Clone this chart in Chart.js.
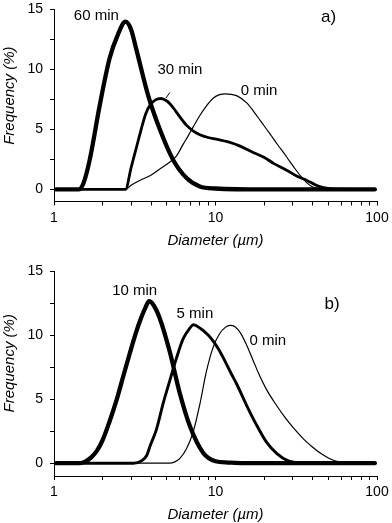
<!DOCTYPE html>
<html>
<head>
<meta charset="utf-8">
<script src="https://cdn.jsdelivr.net/npm/chart.js@4.4.1/dist/chart.umd.min.js"></script>
<style>
  body { margin: 0; background: #fff; }
  canvas { display: block; }
</style>
</head>
<body>
<canvas id="chartA" width="392" height="260"></canvas>
<canvas id="chartB" width="392" height="263"></canvas>
<script>
// Eixos
const xTickValues = [1, 2, 3, 4, 5, 6, 7, 8, 9, 10, 20, 30, 40, 50, 60, 70, 80, 90, 100];
const xTickLabels = [1, 10, 100];
const yTickValues = [0, 2.5, 5, 7.5, 10, 12.5, 15];
const yTickLabels = [0, 5, 10, 15];

// Painel a)
const a60x = [1.03, 1.42, 1.52, 1.66, 1.92, 2.21, 2.49, 2.77, 3.0, 3.24, 3.83, 4.52, 5.47, 6.62, 8.0, 10, 20, 97];
const a60y = [0, 0, 0.5, 2.4, 7.0, 10.9, 12.9, 13.95, 13.3, 11.6, 7.8, 5.0, 2.45, 0.95, 0.25, 0.08, 0, 0];
const a30x = [1.03, 2.77, 3.0, 3.24, 3.45, 3.7, 3.95, 4.25, 4.6, 5.0, 5.2, 5.5, 6.0, 6.6, 7.3, 8.0, 9.0, 10.1, 12, 14.2, 17, 19.8, 23, 27.6, 32, 36.8, 42, 46.7, 55, 97];
const a30y = [0, 0, 1.8, 3.5, 4.9, 6.3, 7.05, 7.45, 7.56, 7.35, 7.15, 6.75, 6.05, 5.35, 4.85, 4.55, 4.32, 4.18, 3.95, 3.6, 3.1, 2.7, 2.15, 1.6, 1.1, 0.75, 0.35, 0.15, 0.02, 0];
const a0x = [1.03, 2.77, 3.0, 3.39, 4.0, 4.52, 5.0, 5.74, 6.3, 6.8, 7.28, 8.0, 8.8, 9.7, 10.6, 11.5, 12.5, 13.5, 15.6, 17.2, 19, 21.8, 24, 27.6, 30.4, 33.5, 36.8, 40, 44.5, 50, 97];
const a0y = [0, 0, 0.35, 0.75, 1.2, 1.7, 2.1, 2.8, 3.75, 4.5, 5.2, 6.15, 6.95, 7.6, 7.88, 7.95, 7.9, 7.8, 7.2, 6.5, 5.7, 4.6, 3.8, 2.7, 1.9, 1.15, 0.55, 0.2, 0.04, 0, 0];

// Painel b)
const b10x = [1.03, 1.45, 1.55, 1.7, 1.85, 2.0, 2.2, 2.45, 2.7, 2.95, 3.2, 3.45, 3.7, 3.88, 4.1, 4.52, 5.21, 6.0, 6.94, 8.4, 10, 12, 15, 97];
const b10y = [0, 0, 0.1, 0.45, 1.0, 1.8, 3.2, 5.0, 6.9, 8.6, 10.1, 11.3, 12.2, 12.65, 12.4, 11.3, 8.7, 5.5, 2.9, 0.8, 0.15, 0.05, 0, 0];
const b5x = [1.03, 3.1, 3.5, 3.75, 3.95, 4.3, 4.75, 5.2, 5.7, 6.3, 6.9, 7.3, 8.0, 9.0, 9.7, 10.5, 11.2, 12.5, 13.5, 15.6, 18.1, 20.8, 24, 28, 33, 40, 97];
const b5y = [0, 0, 0.2, 0.6, 1.4, 2.6, 4.7, 6.4, 8.1, 9.7, 10.5, 10.8, 10.55, 10.0, 9.5, 8.85, 8.2, 7.0, 6.2, 4.5, 2.9, 1.6, 0.75, 0.2, 0.03, 0, 0];
const b0x = [1.03, 5.2, 5.6, 6.0, 6.6, 7.3, 8.0, 8.8, 9.7, 10.6, 11.5, 12.3, 13.2, 14.3, 15.6, 17, 18.5, 20.8, 23.9, 27, 30.4, 35, 40, 45, 51, 58, 65, 97];
const b0y = [0, 0, 0.1, 0.35, 1.1, 2.5, 4.6, 7.2, 9.1, 10.1, 10.6, 10.75, 10.65, 10.15, 9.2, 8.1, 7.0, 5.7, 4.5, 3.55, 2.75, 1.9, 1.25, 0.75, 0.35, 0.1, 0, 0];

// Rótulos das curvas
const notesA = [
  { text: "60 min", x: 1.83, y: 14.4 },
  { text: "30 min", x: 6.02, y: 9.93 },
  { text: "0 min", x: 18.6, y: 8.2 },
  { text: "a)", x: 50.2, y: 14.3, size: 17 },
];
const leaderA = [{ x1: 5.22, y1: 8.06, x2: 4.93, y2: 7.6 }];
const notesB = [
  { text: "10 min", x: 3.16, y: 13.46 },
  { text: "5 min", x: 7.46, y: 11.64 },
  { text: "0 min", x: 21.1, y: 9.55 },
  { text: "b)", x: 52.7, y: 12.4, size: 17 },
];

const fontFamily = '"Liberation Sans", Arial, sans-serif';
Chart.defaults.font.family = fontFamily;
Chart.defaults.color = "#000";

function toPoints(xs, ys) {
  return xs.map((x, i) => ({ x: x, y: ys[i] }));
}

function line(xs, ys, width) {
  return {
    data: toPoints(xs, ys),
    borderColor: "#000",
    borderWidth: width,
    pointRadius: 0,
    fill: false,
    cubicInterpolationMode: "monotone",
    borderJoinStyle: "round",
    borderCapStyle: "round",
  };
}

// Títulos dos eixos e rótulos das curvas
const annotations = {
  id: "annotations",
  afterDatasetsDraw(chart, args, opts) {
    const { ctx, chartArea, scales } = chart;
    ctx.save();
    ctx.fillStyle = "#000";
    ctx.strokeStyle = "#000";
    ctx.textAlign = "center";
    ctx.textBaseline = "middle";

    (opts.notes || []).forEach((n) => {
      ctx.font = (n.size || 15) + "px " + fontFamily;
      ctx.fillText(n.text, scales.x.getPixelForValue(n.x), scales.y.getPixelForValue(n.y));
    });

    ctx.lineWidth = 1;
    (opts.leaders || []).forEach((l) => {
      ctx.beginPath();
      ctx.moveTo(scales.x.getPixelForValue(l.x1), scales.y.getPixelForValue(l.y1));
      ctx.lineTo(scales.x.getPixelForValue(l.x2), scales.y.getPixelForValue(l.y2));
      ctx.stroke();
    });

    ctx.font = "italic 15px " + fontFamily;
    ctx.fillText("Diameter (µm)", (chartArea.left + chartArea.right) / 2, chartArea.bottom + 39);
    ctx.translate(10, scales.y.getPixelForValue(7.8));
    ctx.rotate(-Math.PI / 2);
    ctx.fillText("Frequency (%)", 0, 0);
    ctx.restore();
  },
};

function makeChart(id, datasets, notes, leaders, topPad, xHeight) {
  return new Chart(document.getElementById(id), {
    type: "line",
    data: { datasets: datasets },
    plugins: [annotations],
    options: {
      responsive: false,
      animation: false,
      devicePixelRatio: 1,
      layout: { padding: { top: topPad, right: 15, bottom: 0, left: 0 } },
      plugins: {
        legend: { display: false },
        tooltip: { enabled: false },
        annotations: { notes: notes, leaders: leaders },
      },
      scales: {
        x: {
          type: "logarithmic",
          min: 1,
          max: 100,
          afterBuildTicks: (axis) => {
            axis.ticks = xTickValues.map((v) => ({ value: v }));
          },
          afterFit: (axis) => {
            axis.height = xHeight;
            axis.paddingLeft = 0;
            axis.paddingRight = 0;
          },
          ticks: {
            autoSkip: false,
            maxRotation: 0,
            padding: 4,
            font: { size: 14 },
            color: "#000",
            callback: (v) => (xTickLabels.includes(v) ? String(v) : ""),
          },
          grid: { drawOnChartArea: false, tickLength: 4, tickColor: "#000" },
          border: { color: "#000", width: 1 },
        },
        y: {
          type: "linear",
          min: -1,
          max: 15,
          afterBuildTicks: (axis) => {
            axis.ticks = yTickValues.map((v) => ({ value: v }));
          },
          afterFit: (axis) => {
            axis.width = 54;
            axis.paddingTop = 0;
            axis.paddingBottom = 0;
          },
          ticks: {
            autoSkip: false,
            padding: 7,
            font: { size: 14 },
            color: "#000",
            callback: (v) => (yTickLabels.includes(v) ? String(v) : ""),
          },
          grid: { drawOnChartArea: false, tickLength: 4, tickColor: "#000" },
          border: { color: "#000", width: 1 },
        },
      },
    },
  });
}

makeChart(
  "chartA",
  [line(a0x, a0y, 1.2), line(a30x, a30y, 2.8), line(a60x, a60y, 4.3)],
  notesA,
  leaderA,
  9,
  58.5
);

makeChart(
  "chartB",
  [line(b0x, b0y, 1.2), line(b5x, b5y, 2.9), line(b10x, b10y, 4.3)],
  notesB,
  [],
  11,
  47
);
</script>
</body>
</html>
